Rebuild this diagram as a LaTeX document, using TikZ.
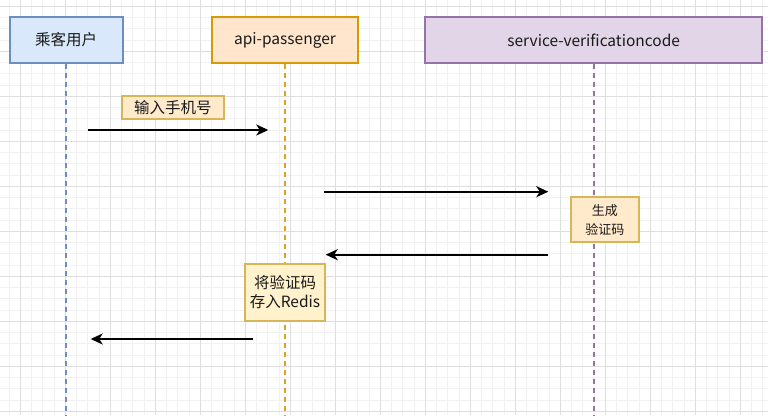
\documentclass[tikz,border=0pt]{standalone}
\usepackage{fontspec}
\newfontfamily\cjk{Noto Sans CJK SC}
\usetikzlibrary{arrows.meta}
\definecolor{bluefill}{HTML}{DAE8FC}
\definecolor{bluestroke}{HTML}{6C8EBF}
\definecolor{orfill}{HTML}{FFE6CC}
\definecolor{orstroke}{HTML}{D79B00}
\definecolor{orline}{HTML}{D9A520}
\definecolor{pufill}{HTML}{E1D5E7}
\definecolor{pustroke}{HTML}{9673A6}
\definecolor{notefill}{HTML}{FFEACC}
\definecolor{notefillb}{HTML}{FFF2CC}
\definecolor{notestroke}{HTML}{D6B656}
\definecolor{gridmajor}{HTML}{DEDEDE}
\definecolor{gridminor}{HTML}{F1F1F1}
\definecolor{txt}{HTML}{1A1A1A}
\tikzset{
  actor/.style={draw, line width=2pt, minimum height=45.4pt, inner sep=0pt, font=\cjk\fontsize{15.5}{18}\selectfont, text=txt},
  lifeline/.style={line width=2pt, dash pattern=on 5pt off 4pt},
  notebox/.style={draw=notestroke, line width=2pt, inner sep=0pt, align=center, text=txt},
  msg/.style={line width=2.2pt, black, -{Stealth[length=12pt,width=11pt,inset=3.5pt]}},
  gmin/.style={gridminor, line width=0.7pt},
  gmaj/.style={gridmajor, line width=0.9pt}
}
\begin{document}
\begin{tikzpicture}[x=1pt,y=-1pt]
\useasboundingbox (0,0) rectangle (768,415);
\fill[white] (0,0) rectangle (768,415);
% grid
\foreach \i in {0,...,70} {\draw[gmin] ({\i*11.25-2.2},0) -- ({\i*11.25-2.2},415);}
\foreach \i in {0,...,38} {\draw[gmin] (0,{\i*11.25-4.95}) -- (768,{\i*11.25-4.95});}
\foreach \i in {0,...,17} {\draw[gmaj] ({\i*45+20.3},0) -- ({\i*45+20.3},415);}
\foreach \i in {0,...,9} {\draw[gmaj] (0,{\i*45+6.3}) -- (768,{\i*45+6.3});}
% actors
\node[actor, fill=bluefill, draw=bluestroke, minimum width=113.2pt] (user) at (66.1,40) {乘客用户};
\node[actor, fill=orfill, draw=orstroke, minimum width=146.6pt] (api) at (285,40) {api-passenger};
\node[actor, fill=pufill, draw=pustroke, minimum width=337.3pt] (svc) at (593.7,40) {service-verificationcode};
% lifeline ends
\coordinate (userend) at (66.1,416);
\coordinate (apiend) at (285,416);
\coordinate (svcend) at (593.7,416);
\draw[lifeline, bluestroke] (user.south) -- (userend);
\draw[lifeline, orline] (api.south) -- (apiend);
\draw[lifeline, pustroke] (svc.south) -- (svcend);
% notes
\node[notebox, fill=notefill, minimum width=102.3pt, minimum height=23.3pt, font=\cjk\fontsize{15.5}{18}\selectfont] (lbl) at (172.8,107.3) {输入手机号};
\node[notebox, fill=notefill, minimum width=68.3pt, minimum height=45pt, font=\cjk\fontsize{13}{19.3}\selectfont] (gen) at (604.8,219.8) {生成\\验证码};
\node[notebox, fill=notefillb, minimum width=80pt, minimum height=56.7pt, font=\cjk\fontsize{15.5}{19.3}\selectfont] (store) at (285,292.3) {将验证码\\存入Redis};
% message endpoints
\coordinate (m1s) at (88.3,130);
\coordinate (m1e) at (268.3,130);
\coordinate (m2s) at (324.3,191.7);
\coordinate (m2e) at (548.3,191.7);
\coordinate (m3s) at (548.3,254.7);
\coordinate (m3e) at (325.7,254.7);
\coordinate (m4s) at (252.7,339);
\coordinate (m4e) at (90.7,339);
\draw[msg] (m1s) -- (m1e);
\draw[msg] (m2s) -- (m2e);
\draw[msg] (m3s) -- (m3e);
\draw[msg] (m4s) -- (m4e);
\end{tikzpicture}
\end{document}
